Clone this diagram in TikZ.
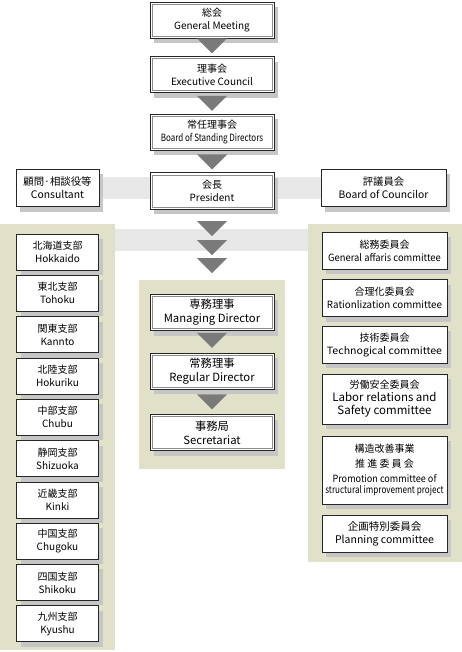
\documentclass[tikz,border=0pt]{standalone}
\usepackage{fontspec}
\setmainfont{Noto Sans CJK JP}
\usetikzlibrary{positioning,shadows}

\definecolor{panelbg}{HTML}{E1E1CA}
\definecolor{bandgray}{HTML}{E8E8E8}
\definecolor{shadowgray}{HTML}{C6C6C6}
\definecolor{arrowgray}{HTML}{7A7A7A}
\newcommand{\narrow}[2][0.8]{\scalebox{#1}[1]{#2}}

\begin{document}
\begin{tikzpicture}[
  x=1pt, y=-1pt,
  node distance=20pt and 10pt,
  base/.style={draw=black!85, line width=0.6pt, fill=white, align=center, inner sep=1pt,
    font=\fontsize{10}{13}\selectfont,
    drop shadow={shadow xshift=4pt, shadow yshift=-5pt, fill=shadowgray, opacity=1}},
  mainbox/.style={base, minimum width=124pt, minimum height=36pt,
    path picture={\draw[black!45, line width=0.5pt]
      ([shift={(2pt,2pt)}]path picture bounding box.south west) rectangle
      ([shift={(-2pt,-2pt)}]path picture bounding box.north east);}},
  staff/.style={mainbox, font=\fontsize{11.3}{14}\selectfont},
  branch/.style={base, minimum width=82pt, minimum height=36pt},
  committee/.style={base, minimum width=125pt, minimum height=37pt},
  tri/.pic={\fill[arrowgray] (-15,-15) -- (15,-15) -- (0,0) -- cycle;}
]
\useasboundingbox (0,0) rectangle (462,652);
\fill[bandgray] (57,177) rectangle (384,199);
\fill[bandgray] (115,229) rectangle (308,251);
\fill[panelbg] (0,224) rectangle (115,650);
\fill[panelbg] (308,224) rectangle (462,562);
\fill[panelbg] (139,280) rectangle (285,469);

\node[mainbox] (gm) at (212,20) {総会\\General Meeting};
\node[mainbox, below=18pt of gm] (ec) {理事会\\Executive Council};
\node[mainbox, below=21pt of ec] (bsd) {常任理事会\\\narrow[0.8]{Board of Standing Directors}};
\node[mainbox, below=22pt of bsd] (pres) {会長\\President};
\node[base, minimum width=83pt, minimum height=37pt, font=\fontsize{10.4}{13}\selectfont] (cons) at (57.5,188)
  {顧問·相談役等\\Consultant};
\node[base, minimum width=125pt, minimum height=37pt, font=\fontsize{10.3}{13}\selectfont] (coun) at (383.5,188)
  {評議員会\\Board of Councilor};

\node[staff] (md) at (212,312.5) {専務理事\\Managing Director};
\node[staff, below=22pt of md] (rd) {常務理事\\Regular Director};
\node[staff, below=25pt of rd] (sec) {事務局\\Secretariat};

\pic at ([yshift=3pt]ec.north) {tri};
\pic at ([yshift=3pt]bsd.north) {tri};
\pic at ([yshift=3pt]pres.north) {tri};
\pic at ([yshift=-27pt]pres.south) {tri};
\pic at ([yshift=-46pt]pres.south) {tri};
\pic at ([yshift=-64pt]pres.south) {tri};
\pic at ([yshift=5pt]rd.north) {tri};
\pic at ([yshift=5pt]sec.north) {tri};

\node[branch] (hok) at (57.5,252) {北海道支部\\Hokkaido};
\node[branch, below=4.7pt of hok] (toh) {東北支部\\Tohoku};
\node[branch, below=4.7pt of toh] (kan) {関東支部\\Kannto};
\node[branch, below=4.7pt of kan] (hkr) {北陸支部\\Hokuriku};
\node[branch, below=4.7pt of hkr] (chb) {中部支部\\Chubu};
\node[branch, below=4.7pt of chb] (shz) {静岡支部\\Shizuoka};
\node[branch, below=4.7pt of shz] (knk) {近畿支部\\Kinki};
\node[branch, below=4.7pt of knk] (chg) {中国支部\\Chugoku};
\node[branch, below=4.7pt of chg] (shk) {四国支部\\Shikoku};
\node[branch, below=4.7pt of shk] (kyu) {九州支部\\Kyushu};

\node[committee] (gen) at (384.5,250.5) {総務委員会\\\narrow[0.94]{General affaris committee}};
\node[committee, below=10pt of gen] (rat) {合理化委員会\\\narrow[0.98]{Rationlization committee}};
\node[committee, below=9pt of rat] (tec) {技術委員会\\\narrow[1.06]{Technogical committee}};
\node[committee, minimum height=50pt, below=10pt of tec] (lab)
  {労働安全委員会\\\fontsize{11.5}{13}\selectfont Labor relations and\\\fontsize{11.5}{13}\selectfont Safety committee};
\node[committee, minimum height=68pt, below=12pt of lab] (pro)
  {構造改善事業\\[2pt]推 進 委 員 会\\[2pt]\narrow[0.91]{Promotion committee of}\\[-2pt]\narrow[0.81]{structural improvement project}};
\node[committee, font=\fontsize{10.5}{13}\selectfont, below=10pt of pro] (pla) {企画特別委員会\\Planning committee};
\end{tikzpicture}
\end{document}
